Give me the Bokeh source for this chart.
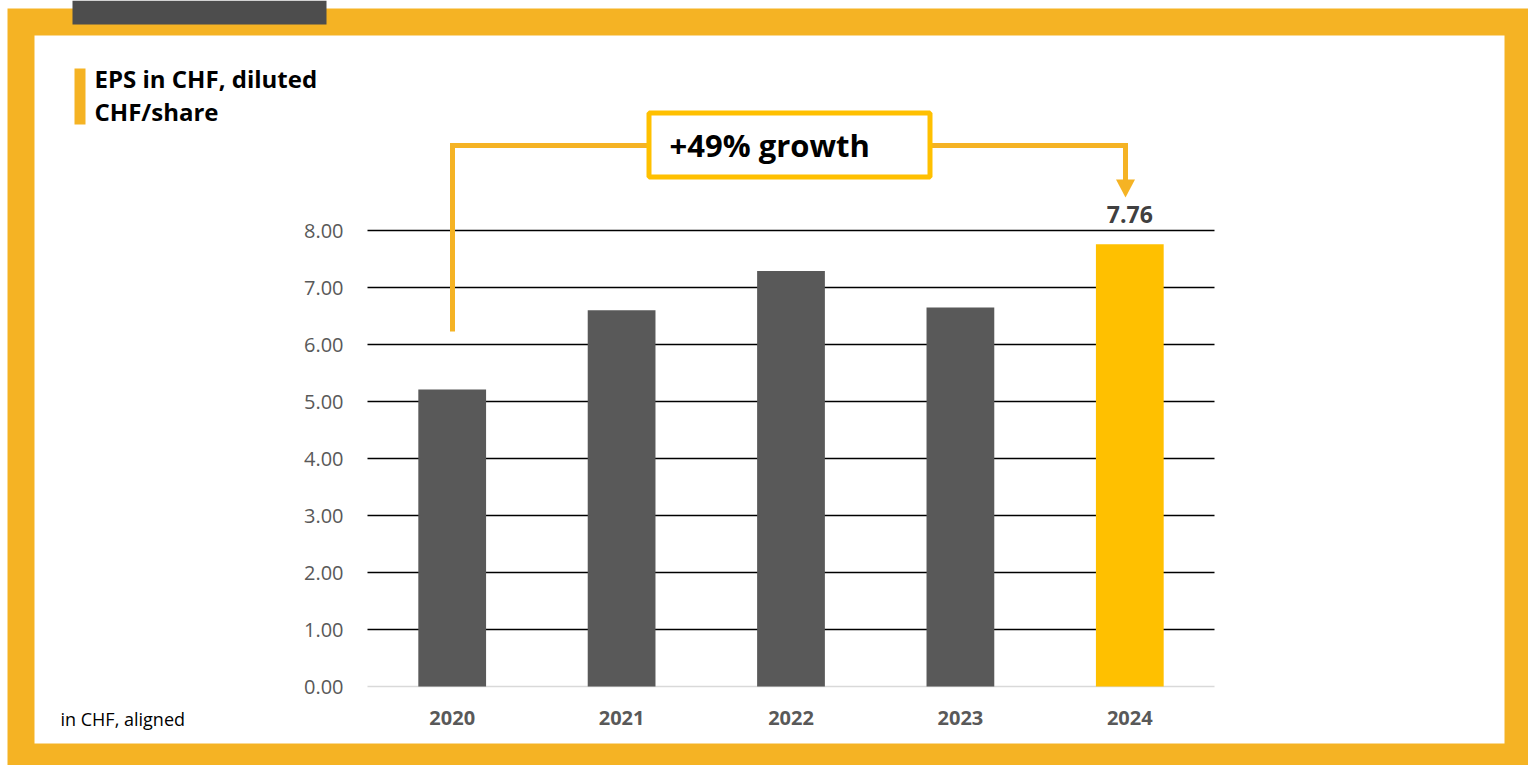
from bokeh.plotting import figure
from bokeh.models import ColumnDataSource, Range1d, LabelSet
from bokeh.core.properties import value
from bokeh.embed import file_html
from bokeh.resources import INLINE

# ---- data ----
years = ["2020", "2021", "2022", "2023", "2024"]
eps = [5.21, 6.60, 7.29, 6.65, 7.76]
bar_colors = ["#595959", "#595959", "#595959", "#595959", "#FFC000"]
y_ticks = [0, 1, 2, 3, 4, 5, 6, 7, 8]
title_lines = ["EPS in CHF, diluted", "CHF/share"]
growth_text = "+49% growth"
footnote = "in CHF, aligned"

# ---- layout (canvas pixels, y downwards) ----
W, H = 1528, 765
PLOT_L, PLOT_R = 367, 1214        # chart area horizontally
ZERO_Y, PX_PER_UNIT = 686, 57.0   # y pixel of 0.00 and pixels per CHF
SLOT = (PLOT_R - PLOT_L) / len(years)

FONT = "Open Sans"
ORANGE = "#F5B324"
GOLD = "#FFC000"
GREY_TXT = "#595959"

p = figure(width=W, height=H, x_range=Range1d(0, W), y_range=Range1d(H, 0),
           x_axis_location=None, y_axis_location=None,
           output_backend="svg", toolbar_location=None,
           min_border=0, min_border_left=0, min_border_right=0,
           min_border_top=0, min_border_bottom=0)
p.outline_line_color = None
p.background_fill_color = "white"
p.border_fill_color = "white"
p.xgrid.visible = False
p.ygrid.visible = False

# scales for the data: category index -> x, CHF value -> y
p.extra_x_ranges = {"idx": Range1d(-(PLOT_L + SLOT / 2) / SLOT,
                                   (W - PLOT_L - SLOT / 2) / SLOT)}
p.extra_y_ranges = {"eps": Range1d(-(H - ZERO_Y) / PX_PER_UNIT, ZERO_Y / PX_PER_UNIT)}

# ---- page decorations ----
p.quad(left=7, right=W, top=8, bottom=H, fill_color=ORANGE, line_color=None)
p.quad(left=34, right=1504, top=35, bottom=743, fill_color="white", line_color=None)
p.quad(left=72, right=326, top=0, bottom=24, fill_color="#4D4D4D", line_color=None)
p.quad(left=74, right=85, top=68, bottom=124, fill_color=ORANGE, line_color=None)

for txt, base in zip(title_lines, [78, 111]):
    p.text(x=94, y=base, text=[txt], text_font=value(FONT), text_font_size="24px",
           text_font_style="bold", text_color="#000000", text_baseline="alphabetic")
p.text(x=60, y=718, text=[footnote], text_font=value(FONT), text_font_size="18px",
       text_color="#000000", text_baseline="alphabetic")

# ---- grid & axis ----
grid_src = ColumnDataSource(dict(v=y_ticks[1:]))
p.segment(x0=PLOT_L, x1=PLOT_R, y0="v", y1="v", source=grid_src, y_range_name="eps",
          line_color="#000000", line_width=1.5)
p.segment(x0=PLOT_L, x1=PLOT_R, y0=0, y1=0, y_range_name="eps",
          line_color="#D9D9D9", line_width=1.5)

tick_src = ColumnDataSource(dict(v=y_ticks, t=[f"{t:.2f}" for t in y_ticks]))
p.text(x=343, y="v", text="t", source=tick_src, y_range_name="eps",
       text_font=value(FONT), text_font_size="20px", text_color=GREY_TXT,
       text_align="right", text_baseline="middle")

# ---- bars ----
src = ColumnDataSource(dict(i=list(range(len(years))), year=years, eps=eps, color=bar_colors))
p.vbar(x="i", top="eps", bottom=0, width=0.4, source=src, fill_color="color",
       line_color=None, x_range_name="idx", y_range_name="eps")
p.text(x="i", y=717, text="year", source=src, x_range_name="idx",
       text_font=value(FONT), text_font_size="20px", text_font_style="bold",
       text_color=GREY_TXT, text_align="center", text_baseline="alphabetic")

lab_src = ColumnDataSource(dict(i=[len(years) - 1], eps=eps[-1:],
                                label=[f"{v:.2f}" for v in eps[-1:]]))
p.add_layout(LabelSet(x="i", y="eps", text="label", source=lab_src, y_offset=21,
                      x_range_name="idx", y_range_name="eps",
                      text_align="center", text_baseline="alphabetic",
                      text_font=value(FONT), text_font_size="23px",
                      text_font_style="bold", text_color="#404040"))

# ---- growth connector ----
p.line(x=[452, 452, 1125, 1125], y=[331, 145, 145, 180], line_color=ORANGE,
       line_width=5, line_join="miter")
p.patch(x=[1115.5, 1134.5, 1125], y=[179, 179, 197], fill_color=ORANGE, line_color=None)
p.quad(left=648.5, right=929.5, top=112.5, bottom=176.5, fill_color="white",
       line_color=GOLD, line_width=5)
p.text(x=669, y=144, text=[growth_text], text_font=value(FONT), text_font_size="31px",
       text_font_style="bold", text_color="#000000", text_baseline="alphabetic")

open("out.html", "w").write(file_html(p, INLINE))
